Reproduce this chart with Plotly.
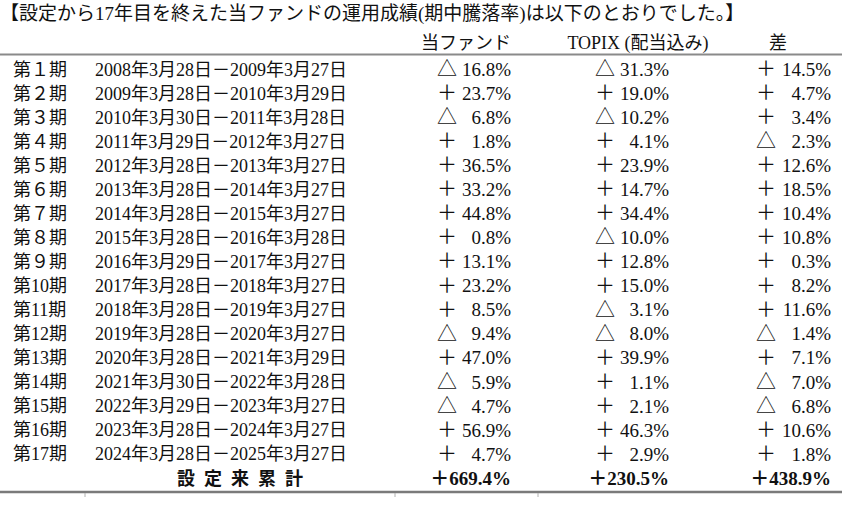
import plotly.graph_objects as go

# ---------------- data ----------------
title_text = "【設定から17年目を終えた当ファンドの運用成績(期中騰落率)は以下のとおりでした。】"
col_headers = ["当ファンド", "TOPIX (配当込み)", "差"]

periods = ["第１期", "第２期", "第３期", "第４期", "第５期", "第６期", "第７期", "第８期", "第９期",
           "第10期", "第11期", "第12期", "第13期", "第14期", "第15期", "第16期", "第17期"]
start_dates = ["2008年3月28日", "2009年3月28日", "2010年3月30日", "2011年3月29日", "2012年3月28日",
               "2013年3月28日", "2014年3月28日", "2015年3月28日", "2016年3月29日", "2017年3月28日",
               "2018年3月28日", "2019年3月28日", "2020年3月28日", "2021年3月30日", "2022年3月29日",
               "2023年3月28日", "2024年3月28日"]
end_dates = ["2009年3月27日", "2010年3月29日", "2011年3月28日", "2012年3月27日", "2013年3月27日",
             "2014年3月27日", "2015年3月27日", "2016年3月28日", "2017年3月27日", "2018年3月27日",
             "2019年3月27日", "2020年3月27日", "2021年3月29日", "2022年3月28日", "2023年3月27日",
             "2024年3月27日", "2025年3月27日"]
fund = [-16.8, 23.7, -6.8, 1.8, 36.5, 33.2, 44.8, 0.8, 13.1, 23.2, 8.5, -9.4, 47.0, -5.9, -4.7, 56.9, 4.7]
topix = [-31.3, 19.0, -10.2, 4.1, 23.9, 14.7, 34.4, -10.0, 12.8, 15.0, -3.1, -8.0, 39.9, 1.1, 2.1, 46.3, 2.9]
diff = [14.5, 4.7, 3.4, -2.3, 12.6, 18.5, 10.4, 10.8, 0.3, 8.2, 11.6, -1.4, 7.1, -7.0, -6.8, 10.6, 1.8]
total_label = "設\u2002定\u2002来\u2002累\u2002計"
totals = [669.4, 230.5, 438.9]

# ---------------- layout constants ----------------
W, H = 852, 506
ROW0_PX, ROW_H = 71.0, 24.06


def row_of(px):
    return (px - ROW0_PX) / ROW_H


FONT = "Liberation Serif, Noto Sans CJK JP, sans-serif"
FS = 18
INK = "#111111"

X_PERIOD = 13
X_DATE = 95
SIGN_X = [437, 595, 756]
RIGHT_X = [511, 669, 831]
HEADER_X = [466, 638, 778]


def sign(v):
    return "△" if v < 0 else "＋"


def num(v):
    return f"{abs(v):.1f}%"


rows = list(range(len(periods)))
total_row = len(periods)

fig = go.Figure()


def text_trace(x, y, text, pos, size=FS, weight="normal"):
    fig.add_trace(go.Scatter(
        x=x, y=y, text=text, mode="text", textposition=pos,
        textfont=dict(family=FONT, size=size, color=INK, weight=weight),
        hoverinfo="skip", showlegend=False, cliponaxis=False))


# title
text_trace([0], [row_of(15)], [title_text], "middle right", size=19)
# headers
text_trace(HEADER_X, [row_of(44)] * 3, col_headers, "middle center")
# period labels & dates
text_trace([X_PERIOD] * len(rows), rows, periods, "middle right")
text_trace([X_DATE] * len(rows), rows,
           [f"{s}－{e}" for s, e in zip(start_dates, end_dates)], "middle right")
# value columns
for series, sx, rx in zip([fund, topix, diff], SIGN_X, RIGHT_X):
    text_trace([sx] * len(rows), rows, [sign(v) for v in series], "middle right", size=20)
    text_trace([rx] * len(rows), rows, [num(v) for v in series], "middle left", size=19)
# totals row
text_trace([240], [total_row], [total_label], "middle center", weight="bold")
text_trace(RIGHT_X, [total_row] * 3, [sign(v) + num(v) for v in totals], "middle left",
           size=19, weight="bold")

# rules
shapes = [
    dict(type="line", xref="x", yref="y", x0=0, x1=842, y0=row_of(54.5), y1=row_of(54.5),
         line=dict(color="#8a8a8a", width=2)),
    dict(type="line", xref="x", yref="y", x0=0, x1=842, y0=row_of(492), y1=row_of(492),
         line=dict(color="#7a7a7a", width=2.5)),
]
for tx in [85, 395, 538]:
    shapes.append(dict(type="line", xref="x", yref="y", x0=tx, x1=tx,
                       y0=row_of(493), y1=row_of(497), line=dict(color="#b0b0b0", width=1)))

fig.update_layout(
    width=W, height=H, margin=dict(l=0, r=0, t=0, b=0),
    paper_bgcolor="white", plot_bgcolor="white",
    xaxis=dict(range=[0, W], visible=False, fixedrange=True),
    yaxis=dict(range=[row_of(H), row_of(0)], visible=False, fixedrange=True),
    shapes=shapes, showlegend=False,
)

fig.write_html("out.html", config={"displayModeBar": False},
               post_script="document.body.style.margin='0';document.body.style.overflow='hidden';")
